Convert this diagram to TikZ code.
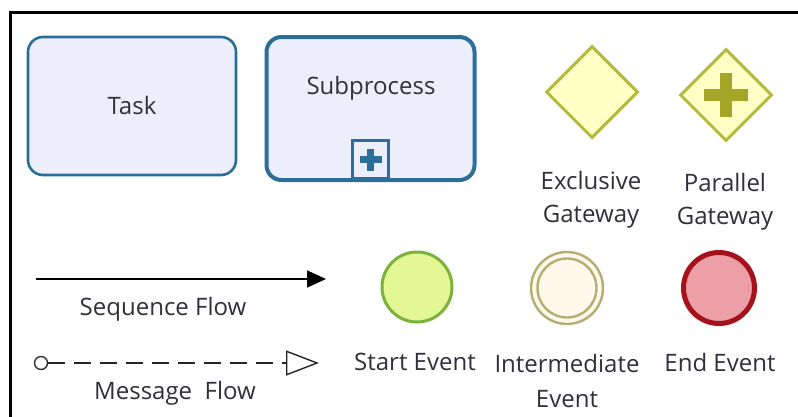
\documentclass[tikz,border=0pt]{standalone}
\usepackage{fontspec}
\setmainfont{Open Sans}
\usetikzlibrary{shapes.geometric,arrows.meta,calc}
\definecolor{taskline}{HTML}{2B6E98}
\definecolor{taskfill}{HTML}{ECEFFB}
\definecolor{gateline}{HTML}{B4BA3C}
\definecolor{gatefill}{HTML}{FFFFC6}
\definecolor{gateplus}{HTML}{A3A626}
\definecolor{startline}{HTML}{7BB23A}
\definecolor{startfill}{HTML}{E3F794}
\definecolor{midline}{HTML}{B4AD74}
\definecolor{midfill}{HTML}{FFF9EC}
\definecolor{endline}{HTML}{A6121C}
\definecolor{endfill}{HTML}{EC9FA6}
\definecolor{txt}{HTML}{30303A}
\tikzset{
  lbl/.style={text=txt,font=\fontsize{24}{33}\selectfont,inner sep=0pt,align=center},
  activity/.style={draw=taskline,fill=taskfill,rounded corners=15pt,
    minimum width=208pt,inner sep=0pt},
  gateway/.style={diamond,draw=gateline,fill=gatefill,line width=3pt,
    minimum width=92pt,minimum height=92pt,inner sep=0pt},
  eventbase/.style={circle,minimum size=70pt,inner sep=0pt},
}
\begin{document}
\begin{tikzpicture}[x=1pt,y=-1pt]
\useasboundingbox (0,0) rectangle (798,416);
\fill[white] (0,0) rectangle (798,416);
% frame along top and left
\draw[line width=3pt,black] (10,430) -- (10,12) -- (810,12);

% activities
\node[activity,line width=2.6pt,minimum height=138pt] (task) at (132,106) {};
\node[lbl] (tasklbl) at (132,105) {Task};
\node[activity,line width=4pt,minimum height=143pt] (sub) at (370.5,108.5) {};
\node[lbl] (sublbl) at (371,88) {Subprocess};
\node[draw=taskline,fill=taskfill,line width=3pt,minimum width=36pt,minimum height=38pt,
  inner sep=0pt,anchor=south] (marker) at (370.5,180) {};
\fill[taskline] ($(marker.center)+(-11,-3.5)$) rectangle ($(marker.center)+(11,3.5)$);
\fill[taskline] ($(marker.center)+(-3.5,-11)$) rectangle ($(marker.center)+(3.5,11)$);

% gateways
\node[gateway] (xgw) at (592,92) {};
\node[gateway] (pgw) at (726,95) {};
\fill[gateplus] ($(pgw.center)+(-22,-6)$) rectangle ($(pgw.center)+(22,6)$);
\fill[gateplus] ($(pgw.center)+(-6,-22)$) rectangle ($(pgw.center)+(6,22)$);
\node[lbl] (xgwlbl) at (591,200) {Exclusive\\Gateway};
\node[lbl] (pgwlbl) at (725,202) {Parallel\\Gateway};

% sequence flow
\coordinate (sqa) at (36,279);
\coordinate (sqb) at (326,279);
\draw[line width=1.6pt,-{Triangle[length=19pt,width=17pt]}] (sqa) -- (sqb);
\node[lbl] (sqlbl) at (163,309) {Sequence Flow};

% message flow
\node[circle,draw=black!80,line width=1.4pt,minimum size=13pt,inner sep=0pt] (msgsrc) at (41,363) {};
\coordinate (msgend) at (319,363);
\draw[line width=1.4pt,dash pattern=on 17pt off 9pt,black!85,
  -{Triangle[open,length=33pt,width=25pt,line width=1.4pt]}] (msgsrc.east) -- (msgend);
\node[lbl] (msglbl) at (175,393) {Message\ \ Flow};

% events
\node[eventbase,draw=startline,fill=startfill,line width=3pt] (start) at (417,287) {};
\node[eventbase,draw=midline,fill=midfill,line width=2.4pt,minimum size=72pt] (mid) at (567,288) {};
\node[circle,draw=midline,line width=2.4pt,minimum size=59pt,inner sep=0pt] (midin) at (mid.center) {};
\node[eventbase,draw=endline,fill=endfill,line width=5pt,minimum size=71pt] (stop) at (719,288) {};
\node[lbl] (startlbl) at (415,362) {Start Event};
\node[lbl,text height=17pt,text depth=5pt] (midlbl) at (567,401) {Intermediate\\[2pt]Event};
\node[lbl] (stoplbl) at (720,362) {End Event};
\end{tikzpicture}
\end{document}
